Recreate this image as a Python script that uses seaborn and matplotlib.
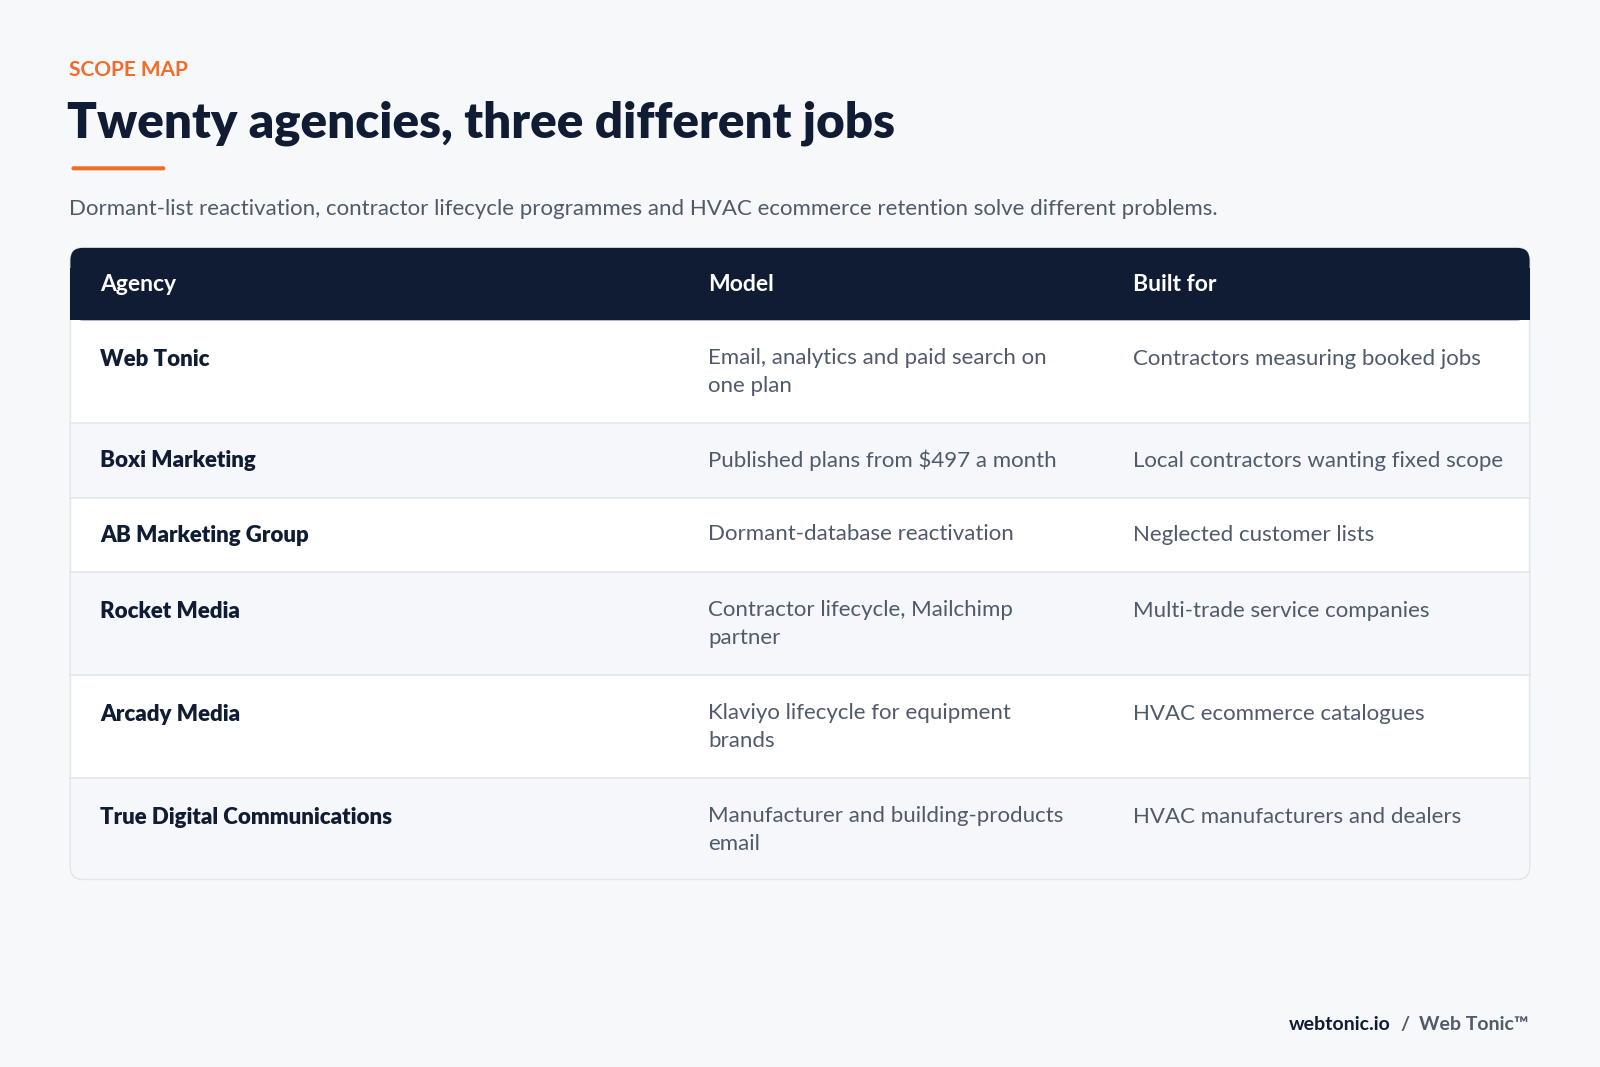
import matplotlib
matplotlib.use("Agg")
import matplotlib.pyplot as plt
import seaborn as sns
from matplotlib.patches import FancyBboxPatch, Rectangle

sns.set_theme(style="white")
plt.rcParams['font.family'] = ['Lato', 'DejaVu Sans']

kicker = "SCOPE MAP"
title = "Twenty agencies, three different jobs"
subtitle = ("Dormant-list reactivation, contractor lifecycle programmes and HVAC "
            "ecommerce retention solve different problems.")
headers = ["Agency", "Model", "Built for"]
agencies = ["Web Tonic", "Boxi Marketing", "AB Marketing Group", "Rocket Media",
            "Arcady Media", "True Digital Communications"]
models = ["Email, analytics and paid search on\none plan",
          "Published plans from $497 a month",
          "Dormant-database reactivation",
          "Contractor lifecycle, Mailchimp\npartner",
          "Klaviyo lifecycle for equipment\nbrands",
          "Manufacturer and building-products\nemail"]
built_for = ["Contractors measuring booked jobs",
             "Local contractors wanting fixed scope",
             "Neglected customer lists",
             "Multi-trade service companies",
             "HVAC ecommerce catalogues",
             "HVAC manufacturers and dealers"]
footer_site = "webtonic.io"
footer_brand = "Web Tonic™"

BG = "#f6f8fa"; NAVY = "#0f1c33"; ORANGE = "#f26b2a"; GREY = "#4f5a6b"
W, H = 1568, 1046
fig = plt.figure(figsize=(16, 10.67), dpi=100, facecolor=BG)
ax = fig.add_axes([0, 0, 1, 1])
ax.set_xlim(0, W); ax.set_ylim(H, 0); ax.axis("off")
ax.set_facecolor(BG)

kt = ax.text(68, 69, kicker, color=ORANGE, fontsize=15, fontweight="bold", va="center")
ax.text(66, 121, title, color=NAVY, fontsize=35.5, fontweight="heavy", va="center")
ax.add_patch(FancyBboxPatch((70, 163), 92, 4, boxstyle="round,pad=0,rounding_size=2",
                            color=ORANGE, lw=0))
ax.text(68, 205, subtitle, color=GREY, fontsize=16, va="center")

x0, x1 = 69, 1499
top, head_bot = 243, 314
bounds = [314, 415, 488, 561, 662, 763, 862]
ax.add_patch(FancyBboxPatch((x0, top), x1 - x0, bounds[-1] - top,
                            boxstyle="round,pad=0,rounding_size=12",
                            fc="white", ec="#e3e7ec", lw=1.2, zorder=1))
ax.add_patch(FancyBboxPatch((x0, top), x1 - x0, head_bot - top,
                            boxstyle="round,pad=0,rounding_size=12", fc=NAVY, lw=0, zorder=2))
ax.add_patch(Rectangle((x0, top + 20), x1 - x0, head_bot - top - 20, fc=NAVY, lw=0, zorder=2))
cols = [98, 694, 1110]
for c, h in zip(cols, headers):
    ax.text(c, 279, h, color="white", fontsize=16.5, fontweight="bold", va="center", zorder=3)

for i in range(len(agencies)):
    y0, y1 = bounds[i], bounds[i + 1]
    if i % 2 == 1:
        if i == len(agencies) - 1:
            ax.add_patch(FancyBboxPatch((x0 + 1, y0), x1 - x0 - 2, y1 - y0 - 1,
                                        boxstyle="round,pad=0,rounding_size=11",
                                        fc="#f5f7fa", lw=0, zorder=1.5))
            ax.add_patch(Rectangle((x0 + 1, y0), x1 - x0 - 2, 20, fc="#f5f7fa", lw=0, zorder=1.5))
        else:
            ax.add_patch(Rectangle((x0 + 1, y0), x1 - x0 - 2, y1 - y0, fc="#f5f7fa", lw=0, zorder=1.5))
    if i > 0:
        ax.plot([x0, x1], [y0, y0], color="#e3e7ec", lw=1.2, zorder=2)
    ty = y0 + 38 if (y1 - y0) > 90 else (y0 + y1) / 2
    kw = dict(va="center", zorder=3)
    ax.text(cols[0], ty, agencies[i], color=NAVY, fontsize=16, fontweight="heavy", **kw)
    ax.text(cols[1], ty - 11, models[i], color=GREY, fontsize=16, va="top", zorder=3, linespacing=1.5)
    ax.text(cols[2], ty, built_for[i], color=GREY, fontsize=16, **kw)

ax.text(1363, 1004, footer_site, color=NAVY, fontsize=14, fontweight="bold", va="center", ha="right")
ax.text(1377, 1004, "/", color=GREY, fontsize=14, fontweight="bold", va="center", ha="center")
ax.text(1391, 1004, footer_brand, color=GREY, fontsize=14, fontweight="bold", va="center")

fig.savefig("out.png", dpi=100, facecolor=BG)
